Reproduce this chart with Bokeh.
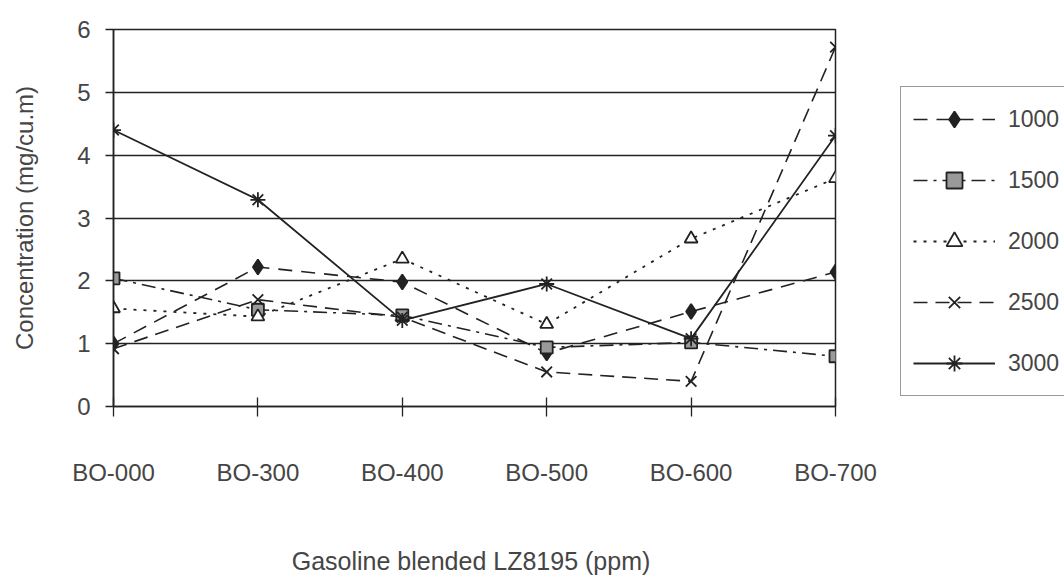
from bokeh.plotting import figure
from bokeh.layouts import row
from bokeh.models import Range1d, FixedTicker, Legend, LegendItem
from bokeh.embed import file_html
from bokeh.resources import INLINE

categories = ["BO-000", "BO-300", "BO-400", "BO-500", "BO-600", "BO-700"]
s1000 = [1.00, 2.22, 1.98, 0.85, 1.51, 2.14]
s1500 = [2.04, 1.54, 1.45, 0.94, 1.02, 0.80]
s2000 = [1.56, 1.43, 2.35, 1.31, 2.67, 3.63]
s2500 = [0.92, 1.70, 1.42, 0.55, 0.40, 5.72]
s3000 = [4.40, 3.29, 1.37, 1.95, 1.08, 4.31]
series_names = ["1000", "1500", "2000", "2500", "3000"]
y_ticks = [0, 1, 2, 3, 4, 5, 6]

x = list(range(len(categories)))
INK = "#222222"
TXT = "#454545"
FONT = "Liberation Sans"
FS = "24px"
NAN = float("nan")

p = figure(width=900, height=577, x_range=Range1d(0, len(categories) - 1),
           y_range=Range1d(0, 6), output_backend="svg", toolbar_location=None,
           min_border_left=113, min_border_right=65, min_border_top=29,
           min_border_bottom=171)
p.background_fill_color = "white"
p.border_fill_color = "white"
p.outline_line_color = INK
p.outline_line_width = 1.5

p.xgrid.grid_line_color = None
p.ygrid.grid_line_color = INK
p.ygrid.grid_line_width = 1.3
p.ygrid.ticker = FixedTicker(ticks=y_ticks)

p.yaxis.ticker = FixedTicker(ticks=y_ticks)
p.yaxis.minor_tick_line_color = None
p.yaxis.major_tick_in = 0
p.yaxis.major_tick_out = 8
p.yaxis.major_label_standoff = 15
p.yaxis.axis_label = "Concentration (mg/cu.m)"
p.yaxis.axis_label_standoff = 36

p.xaxis.ticker = FixedTicker(ticks=x)
p.xaxis.major_label_overrides = {i: c for i, c in zip(x, categories)}
p.xaxis.minor_tick_line_color = None
p.xaxis.major_tick_in = 9
p.xaxis.major_tick_out = 10
p.xaxis.major_label_standoff = 42
p.xaxis.axis_label = "Gasoline blended LZ8195  (ppm)"
p.xaxis.axis_label_standoff = 58

for ax in (p.xaxis, p.yaxis):
    ax.axis_line_color = INK
    ax.axis_line_width = 1.5
    ax.major_tick_line_color = INK
    ax.major_tick_line_width = 1.3
    ax.major_label_text_font = FONT
    ax.major_label_text_font_size = FS
    ax.major_label_text_color = TXT
    ax.axis_label_text_font = FONT
    ax.axis_label_text_font_size = FS
    ax.axis_label_text_color = TXT
    ax.axis_label_text_font_style = "normal"
p.xaxis.axis_label_text_font_size = "25px"

styles = [
    dict(data=s1000, dash="14 9", marker="diamond", size=15, fill=INK, lw=1.6),
    dict(data=s1500, dash="14 6 3 6", marker="square", size=12, fill="#9a9a9a", lw=1.6),
    dict(data=s2000, dash="3 7", marker="triangle", size=13, fill="white", lw=1.8),
    dict(data=s2500, dash="14 8", marker="x", size=15, fill=INK, lw=1.6),
    dict(data=s3000, dash="solid", marker="asterisk", size=15, fill=INK, lw=1.8),
]

for st in styles:
    p.line(x, st["data"], line_color=INK, line_width=st["lw"], line_dash=st["dash"])
    p.scatter(x, st["data"], marker=st["marker"], size=st["size"],
              fill_color=st["fill"], line_color=INK, line_width=1.8)

# Legend panel: a narrow companion figure so the box can sit right of the frame
lg = figure(width=164, height=577, x_range=Range1d(0, 1), y_range=Range1d(0, 1),
            output_backend="svg", toolbar_location=None,
            x_axis_location=None, y_axis_location=None,
            min_border_left=0, min_border_right=0, min_border_top=0,
            min_border_bottom=0)
lg.outline_line_color = None
lg.xgrid.grid_line_color = None
lg.ygrid.grid_line_color = None
lg.background_fill_color = "white"
lg.border_fill_color = "white"

items = []
for name, st in zip(series_names, styles):
    lr = lg.line([NAN], [NAN], line_color=INK, line_width=st["lw"], line_dash=st["dash"])
    sr = lg.scatter([NAN], [NAN], marker=st["marker"], size=st["size"],
                    fill_color=st["fill"], line_color=INK, line_width=1.8)
    items.append(LegendItem(label=name, renderers=[lr, sr]))

legend = Legend(items=items, location=(0, 10))
legend.border_line_color = "#333333"
legend.border_line_width = 1.5
legend.background_fill_color = "white"
legend.background_fill_alpha = 1.0
legend.padding = 12
legend.spacing = 21
legend.glyph_height = 40
legend.label_height = 40
legend.glyph_width = 82
legend.label_standoff = 13
legend.margin = 0
legend.label_text_font = FONT
legend.label_text_font_size = "23px"
legend.label_text_color = TXT
lg.add_layout(legend, "center")

layout = row(p, lg, spacing=0)
open("out.html", "w").write(file_html(layout, INLINE))
